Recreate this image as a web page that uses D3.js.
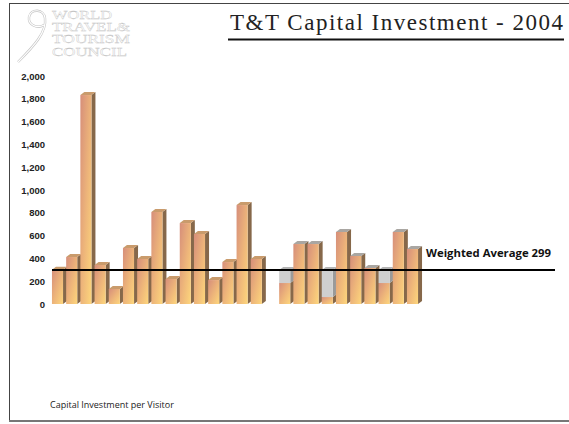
<!DOCTYPE html>
<html>
<head>
<meta charset="utf-8">
<script src="https://cdn.jsdelivr.net/npm/d3@7"></script>
<style>
  body { margin: 0; background: #fff; }
  svg { display: block; }
</style>
</head>
<body>
<div id="chart"></div>
<script>
// slots along the x axis (the empty slot separates the two groups)
const categories = [
  "g1-1", "g1-2", "g1-3", "g1-4", "g1-5", "g1-6", "g1-7", "g1-8",
  "g1-9", "g1-10", "g1-11", "g1-12", "g1-13", "g1-14", "g1-15",
  "gap",
  "g2-1", "g2-2", "g2-3", "g2-4", "g2-5", "g2-6", "g2-7", "g2-8", "g2-9", "g2-10"
];
// capital investment per visitor
const values = [
  300, 412, 1833, 342, 132, 491, 395, 807, 219, 710, 614, 210, 368, 868, 395,
  null,
  184, 526, 526, 61, 632, 421, 316, 184, 632, 482
];
// grey shortfall up to the weighted average
const shortfall = [
  0, 0, 0, 0, 0, 0, 0, 0, 0, 0, 0, 0, 0, 0, 0,
  null,
  115, 0, 0, 238, 0, 0, 0, 115, 0, 0
];
const groupOf = categories.map((c) => (c.startsWith("g2") ? 2 : 1));
const yTicks = [0, 200, 400, 600, 800, 1000, 1200, 1400, 1600, 1800, 2000];
const weightedAverage = 299;

const width = 569;
const height = 424;

const svg = d3
  .select("#chart")
  .append("svg")
  .attr("width", width)
  .attr("height", height);

const defs = svg.append("defs");
const grad = defs
  .append("linearGradient")
  .attr("id", "front")
  .attr("x1", "0%")
  .attr("y1", "0%")
  .attr("x2", "100%")
  .attr("y2", "100%");
grad.append("stop").attr("offset", "0%").attr("stop-color", "#d68e7a");
grad.append("stop").attr("offset", "55%").attr("stop-color", "#eeb67a");
grad.append("stop").attr("offset", "100%").attr("stop-color", "#fdd67c");

// frame: left, top, bottom
const frame = svg.append("g").attr("stroke", "#444").attr("fill", "none");
frame.append("line").attr("x1", 9.5).attr("x2", 9.5).attr("y1", 3).attr("y2", 421);
frame.append("line").attr("x1", 9).attr("x2", 569).attr("y1", 3.5).attr("y2", 3.5);
svg
  .append("line")
  .attr("x1", 9)
  .attr("x2", 569)
  .attr("y1", 421)
  .attr("y2", 421)
  .attr("stroke", "#777")
  .attr("stroke-width", 2);

// logo
const logo = svg.append("g");
const swoosh =
  "M 18 62 C 34 46, 47 32, 45 18 C 44 9, 31 8, 29 17 C 28 25, 37 29, 44 25";
logo
  .append("path")
  .attr("d", swoosh)
  .attr("fill", "none")
  .attr("stroke", "#c4c4c4")
  .attr("stroke-width", 2.4);
logo
  .append("path")
  .attr("d", swoosh)
  .attr("fill", "none")
  .attr("stroke", "#fff")
  .attr("stroke-width", 1.2);
const logoLines = [
  { t: "WORLD", y: 19, w: 60 },
  { t: "TRAVEL&", y: 31, w: 78 },
  { t: "TOURISM", y: 43, w: 78 },
  { t: "COUNCIL", y: 56, w: 75 }
];
logo
  .selectAll("text")
  .data(logoLines)
  .join("text")
  .attr("x", 52)
  .attr("y", (d) => d.y)
  .attr("textLength", (d) => d.w)
  .attr("lengthAdjust", "spacingAndGlyphs")
  .attr("font-family", "Liberation Serif, serif")
  .attr("font-size", 11.5)
  .attr("fill", "#fff")
  .attr("stroke", "#c2c2c2")
  .attr("stroke-width", 0.3)
  .text((d) => d.t);

// title
svg
  .append("text")
  .attr("x", 230)
  .attr("y", 30)
  .attr("textLength", 333)
  .attr("lengthAdjust", "spacing")
  .attr("font-family", "Liberation Serif, serif")
  .attr("font-size", 23)
  .attr("fill", "#222")
  .text("T&T Capital Investment - 2004");
svg
  .append("line")
  .attr("x1", 228)
  .attr("x2", 564)
  .attr("y1", 39.5)
  .attr("y2", 39.5)
  .attr("stroke", "#111")
  .attr("stroke-width", 2);

// scales
const x = d3
  .scaleBand()
  .domain(categories)
  .range([50.4, 419.6])
  .paddingInner(0.22)
  .paddingOuter(0.11);

const y = d3.scaleLinear().domain([0, 2000]).range([304, 76]);

// y axis
svg
  .append("g")
  .attr("transform", "translate(46,0)")
  .call(
    d3
      .axisLeft(y)
      .tickValues(yTicks)
      .tickSize(0)
      .tickPadding(1)
      .tickFormat(d3.format(","))
  )
  .call((g) => g.select(".domain").remove())
  .selectAll("text")
  .attr("font-family", "Liberation Sans, Arial, sans-serif")
  .attr("font-weight", "bold")
  .attr("font-size", 9.5)
  .attr("fill", "#222");

// 3d bars
const dx = 4;
const dy = 3;

const drawBlock = (g, x0, w, yTop, yBot, fFront, fSide, fTop, showTop) => {
  g.append("polygon")
    .attr(
      "points",
      [
        [x0 + w, yTop],
        [x0 + w + dx, yTop - dy],
        [x0 + w + dx, yBot - dy],
        [x0 + w, yBot]
      ].join(" ")
    )
    .attr("fill", fSide);
  g.append("rect")
    .attr("x", x0)
    .attr("y", yTop)
    .attr("width", w)
    .attr("height", yBot - yTop)
    .attr("fill", fFront);
  if (showTop) {
    g.append("polygon")
      .attr(
        "points",
        [
          [x0, yTop],
          [x0 + dx, yTop - dy],
          [x0 + w + dx, yTop - dy],
          [x0 + w, yTop]
        ].join(" ")
      )
      .attr("fill", fTop);
  }
};

const bars = svg.append("g");
categories.forEach((c, i) => {
  const v = values[i];
  if (v == null) return;
  const g = bars.append("g");
  const x0 = x(c);
  const w = x.bandwidth();
  const s = shortfall[i] || 0;
  const topColor = groupOf[i] === 2 ? "#a9a6a2" : "#c99b6c";
  drawBlock(g, x0, w, y(v), y(0), "url(#front)", "#86684a", topColor, s === 0);
  if (s > 0) {
    drawBlock(g, x0, w, y(v + s), y(v), "#cfcfcf", "#9a9a9a", "#b4b4b4", true);
  }
});

// weighted average line
svg
  .append("line")
  .attr("x1", 52)
  .attr("x2", 555)
  .attr("y1", y(weightedAverage))
  .attr("y2", y(weightedAverage))
  .attr("stroke", "#000")
  .attr("stroke-width", 2);

svg
  .append("text")
  .attr("x", 426)
  .attr("y", 257)
  .attr("textLength", 125)
  .attr("lengthAdjust", "spacingAndGlyphs")
  .attr("font-family", "Open Sans, sans-serif")
  .attr("font-weight", "bold")
  .attr("font-size", 10)
  .attr("fill", "#111")
  .text(`Weighted Average ${weightedAverage}`);

// footnote
svg
  .append("text")
  .attr("x", 50)
  .attr("y", 408)
  .attr("font-family", "Open Sans, sans-serif")
  .attr("font-size", 9)
  .attr("fill", "#222")
  .text("Capital Investment per Visitor");
</script>
</body>
</html>
